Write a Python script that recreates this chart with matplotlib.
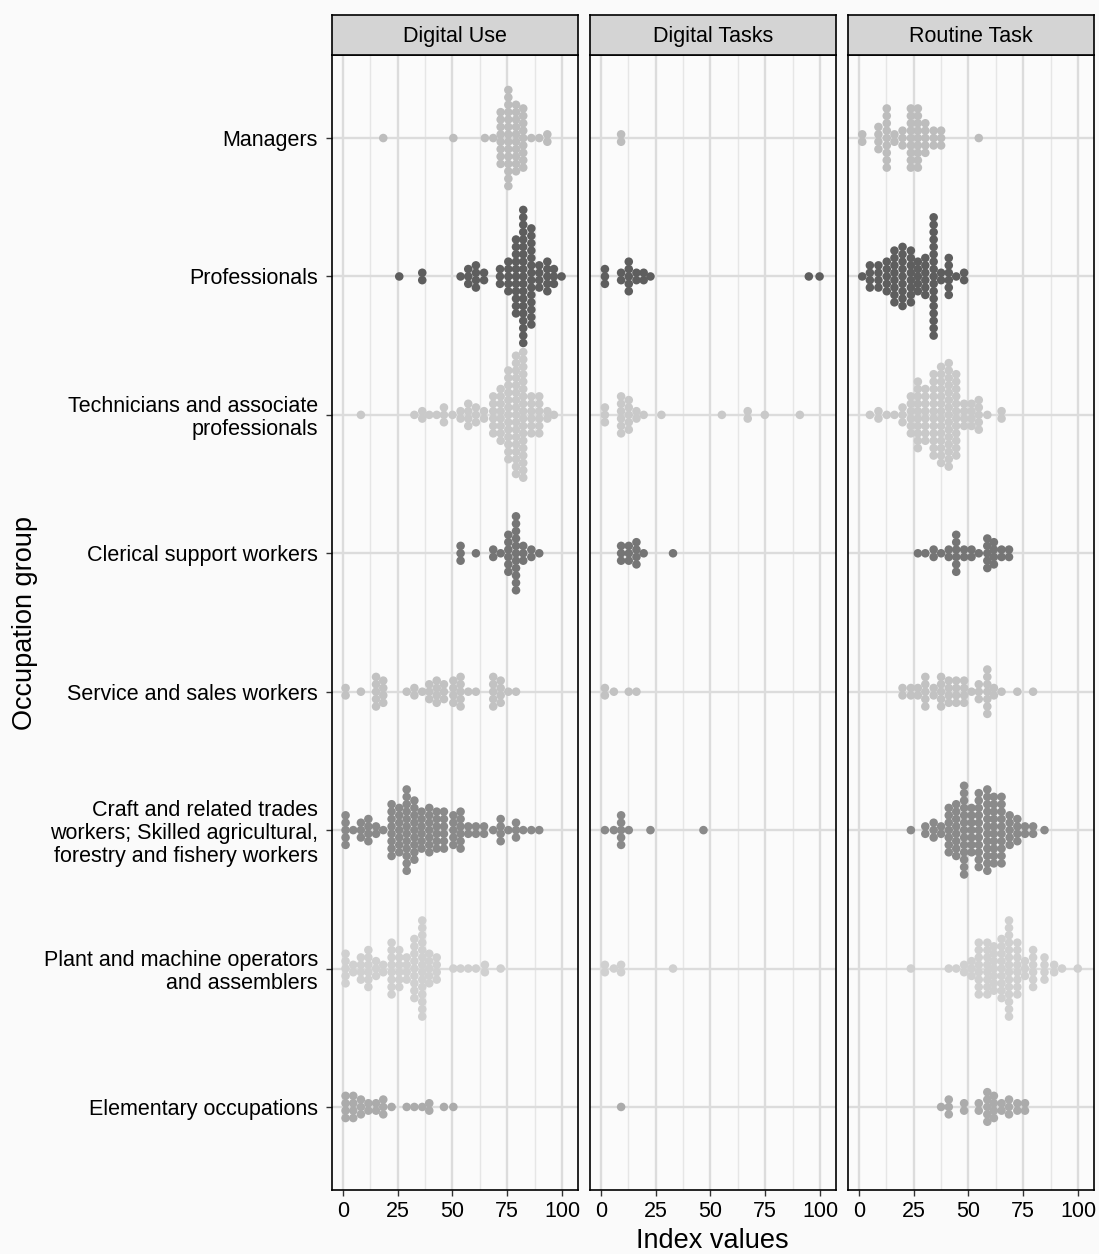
import matplotlib.pyplot as plt
import numpy as np
from matplotlib.ticker import MultipleLocator

plt.rcParams['font.family'] = ['Liberation Sans', 'DejaVu Sans']

groups = ["Managers", "Professionals", "Technicians and associate\nprofessionals",
          "Clerical support workers", "Service and sales workers",
          "Craft and related trades\nworkers; Skilled agricultural,\nforestry and fishery workers",
          "Plant and machine operators\nand assemblers", "Elementary occupations"]
group_colors = ["#bdbdbd", "#5e5e5e", "#c9c9c9", "#757575",
                "#c2c2c2", "#8a8a8a", "#d0d0d0", "#ababab"]
panels = ["Digital Use", "Digital Tasks", "Routine Task"]

# (bin position, number of stacked dots) per occupation group, one list per panel
digital_use = [
    ([18.4, 50.4, 64.8, 68.6, 72.0, 75.5, 79.0, 82.3, 86.0, 89.6, 93.3],
     [1, 1, 1, 1, 8, 14, 10, 9, 1, 1, 2]),
    ([25.7, 36.2, 53.7, 57.2, 60.7, 64.4, 71.7, 75.5, 79.0, 82.3, 86.0, 89.6, 93.3, 96.3, 99.8],
     [1, 2, 1, 3, 4, 2, 3, 5, 11, 19, 14, 4, 5, 3, 1]),
    ([8.2, 32.6, 36.2, 39.4, 42.8, 46.1, 50.0, 53.7, 57.2, 60.7, 64.4, 68.6, 72.0, 75.5, 79.0,
      82.3, 86.0, 89.6, 93.3, 96.3],
     [1, 1, 2, 1, 1, 3, 1, 2, 4, 3, 2, 6, 8, 13, 17, 18, 6, 6, 2, 1]),
    ([53.7, 60.7, 68.6, 72.0, 75.5, 79.0, 82.3, 86.0, 89.6],
     [3, 1, 2, 1, 6, 11, 3, 2, 1]),
    ([1.2, 8.2, 15.1, 18.4, 29.1, 32.6, 36.2, 39.4, 42.8, 46.1, 50.4, 53.7, 57.2, 60.7, 68.6,
      72.0, 75.5, 79.0],
     [2, 1, 5, 4, 1, 2, 1, 3, 4, 3, 4, 5, 1, 1, 5, 4, 1, 1]),
    ([1.2, 4.7, 8.2, 11.6, 15.1, 18.4, 22.2, 25.7, 29.1, 32.6, 35.9, 39.4, 42.8, 46.1, 50.4,
      53.7, 57.2, 60.7, 64.4, 68.6, 72.0, 75.5, 79.0, 82.3, 86.0, 89.6],
     [5, 1, 3, 4, 2, 1, 8, 7, 12, 9, 6, 7, 6, 6, 5, 6, 2, 2, 2, 1, 4, 1, 3, 1, 1, 1]),
    ([1.2, 4.7, 8.2, 11.6, 15.1, 18.4, 22.2, 25.7, 29.1, 32.6, 36.2, 39.4, 42.8, 50.4, 53.7,
      57.2, 60.7, 64.8, 72.0],
     [5, 2, 4, 6, 3, 2, 8, 6, 4, 9, 14, 5, 4, 1, 1, 1, 1, 2, 1]),
    ([1.2, 4.7, 8.2, 11.6, 15.1, 18.4, 22.2, 29.1, 32.6, 36.2, 39.4, 46.1, 50.4],
     [4, 4, 3, 2, 2, 3, 1, 1, 1, 1, 2, 1, 1]),
]

digital_tasks = [
    ([9.2], [2]),
    ([1.8, 9.2, 12.7, 16.2, 19.5, 22.6, 94.9, 99.8], [3, 2, 5, 2, 2, 1, 1, 1]),
    ([1.8, 9.2, 12.7, 16.2, 19.5, 27.6, 55.2, 67.0, 74.8, 90.8], [3, 6, 5, 2, 1, 1, 1, 2, 1, 1]),
    ([9.2, 12.7, 16.2, 19.5, 32.9], [3, 3, 4, 1, 1]),
    ([1.8, 5.9, 12.7, 16.2], [2, 1, 1, 1]),
    ([1.8, 5.9, 9.2, 12.7, 22.6, 46.8], [1, 1, 5, 1, 1, 1]),
    ([1.8, 5.9, 9.2, 32.9], [2, 1, 2, 1]),
    ([9.2], [1]),
]

routine_task = [
    ([1.5, 8.9, 12.7, 16.2, 19.9, 23.7, 26.9, 30.3, 34.1, 37.5, 54.7],
     [2, 4, 9, 2, 3, 9, 9, 5, 3, 3, 1]),
    ([1.5, 5.0, 8.9, 12.7, 16.2, 19.9, 23.7, 26.9, 30.3, 34.1, 37.5, 41.0, 44.4, 48.0],
     [1, 4, 4, 5, 8, 9, 8, 5, 6, 17, 2, 6, 1, 2]),
    ([5.0, 8.9, 12.7, 16.2, 19.9, 23.7, 26.9, 30.3, 34.1, 37.5, 41.0, 44.4, 48.0, 51.4, 54.7,
      58.6, 65.1],
     [1, 2, 1, 1, 3, 6, 10, 8, 12, 14, 15, 12, 4, 4, 5, 1, 2]),
    ([26.9, 30.3, 34.1, 37.5, 41.0, 44.4, 48.0, 51.4, 54.7, 58.6, 61.6, 65.1, 68.5],
     [1, 1, 2, 1, 2, 6, 2, 2, 1, 5, 4, 2, 2]),
    ([19.9, 23.7, 26.9, 30.3, 34.1, 37.5, 41.0, 44.4, 48.0, 51.4, 54.7, 58.6, 61.6, 65.1, 72.3,
      79.5],
     [2, 2, 2, 5, 2, 5, 4, 4, 4, 1, 3, 7, 2, 1, 1, 1]),
    ([23.7, 30.3, 34.1, 37.5, 41.0, 44.4, 48.0, 51.4, 54.7, 58.6, 61.6, 65.1, 68.8, 72.3, 75.8,
      79.5, 84.7],
     [1, 2, 3, 2, 7, 8, 13, 7, 11, 12, 10, 10, 5, 4, 2, 2, 1]),
    ([23.7, 41.0, 44.4, 48.0, 51.4, 54.7, 58.6, 61.6, 65.1, 68.5, 72.3, 75.8, 79.5, 84.7, 89.1,
      92.7, 99.9],
     [1, 1, 1, 2, 3, 8, 8, 7, 9, 14, 8, 3, 6, 4, 2, 1, 1]),
    ([37.5, 41.0, 48.0, 54.7, 58.6, 61.6, 65.1, 68.5, 72.3, 75.8],
     [1, 3, 2, 2, 5, 4, 2, 3, 2, 2]),
]

panel_data = [digital_use, digital_tasks, routine_task]

W, H = 1099, 1254
fig = plt.figure(figsize=(W / 100, H / 100), dpi=100)
fig.patch.set_facecolor("#fafafa")

lefts = [332, 590, 848]
pw = 246
top, bottom = 55, 1190
step = 0.0534  # vertical spacing of stacked dots, in category units

for p, (name, data) in enumerate(zip(panels, panel_data)):
    ax = fig.add_axes([lefts[p] / W, 1 - bottom / H, pw / W, (bottom - top) / H])
    ax.set_facecolor("#fbfbfb")
    ax.set_xlim(-5, 107.3)
    ax.set_ylim(len(groups) + 0.6, 0.4)
    ax.xaxis.set_major_locator(MultipleLocator(25))
    ax.xaxis.set_minor_locator(MultipleLocator(12.5))
    ax.set_xticks([0, 25, 50, 75, 100])
    ax.set_xticklabels(["0", "25", "50", "75", "100"], fontsize=15.5,
                       family=['Liberation Sans Narrow', 'Liberation Sans'])
    ax.set_yticks(np.arange(1, len(groups) + 1))
    ax.grid(which="major", axis="x", color="#dcdcdc", lw=1.7, zorder=0)
    ax.grid(which="minor", axis="x", color="#e6e6e6", lw=1.0, zorder=0)
    ax.grid(which="major", axis="y", color="#dcdcdc", lw=1.7, zorder=0)
    ax.tick_params(axis="x", which="minor", length=0)
    ax.tick_params(axis="both", which="major", length=4, width=1, color="#333333", pad=4)
    if p == 0:
        ax.set_yticklabels(groups, fontsize=15.5, ha="right", linespacing=1.12)
        ax.tick_params(axis="y", pad=6)
    else:
        ax.tick_params(axis="y", length=0)
        ax.set_yticklabels([])
    for sp in ax.spines.values():
        sp.set_color("black")
        sp.set_linewidth(1.2)

    for g, (xs, ns) in enumerate(data):
        px, py = [], []
        for x, n in zip(xs, ns):
            for k in range(n):
                px.append(x)
                py.append(g + 1 + (k - (n - 1) / 2) * step)
        ax.scatter(px, py, s=38, color=group_colors[g], edgecolors="none", zorder=3)

    # facet strip
    sax = fig.add_axes([lefts[p] / W, 1 - top / H, pw / W, 40 / H])
    sax.set_facecolor("#d4d4d4")
    sax.set_xticks([])
    sax.set_yticks([])
    for sp in sax.spines.values():
        sp.set_color("black")
        sp.set_linewidth(1.2)
    sax.text(0.5, 0.47, name, ha="center", va="center", fontsize=15.5, transform=sax.transAxes)

fig.text(712 / W, 1 - 1241 / H, "Index values", ha="center", va="center", fontsize=19.5)
fig.text(25 / W, 1 - 623 / H, "Occupation group", ha="center", va="center", fontsize=19.5,
         rotation=90)

fig.savefig("out.png", dpi=100, facecolor=fig.get_facecolor())
